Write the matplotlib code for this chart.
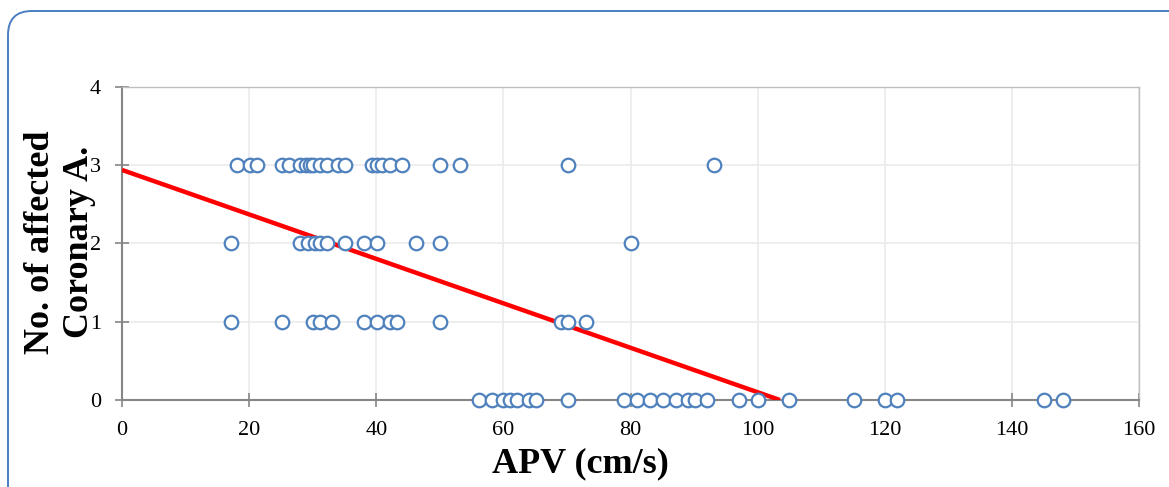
import numpy as np
import matplotlib
matplotlib.use("Agg")
import matplotlib.pyplot as plt
from matplotlib.patches import FancyBboxPatch
from matplotlib.transforms import IdentityTransform

# ---- data ----
apv_3 = [18.1, 20.1, 21.2, 25.1, 26.2, 28.0, 28.9, 29.6, 30.1, 31.2, 32.2, 34.0,
         35.1, 39.3, 40.1, 40.9, 42.2, 44.0, 50.0, 53.2, 70.1, 93.1]
apv_2 = [17.1, 28.0, 29.3, 30.4, 31.2, 32.2, 35.1, 38.0, 40.1, 46.3, 50.0, 80.1]
apv_1 = [17.1, 25.1, 30.1, 31.2, 33.1, 38.1, 40.1, 42.1, 43.2, 50.0, 69.0, 70.2, 73.0]
apv_0 = [56.2, 58.2, 60.0, 61.0, 62.2, 64.1, 65.1, 70.1, 79.0, 81.1, 83.1, 85.1,
         87.1, 89.1, 90.2, 92.0, 97.1, 100.1, 105.0, 115.1, 120.0, 122.0, 145.1, 148.1]
vessel_counts = [3, 2, 1, 0]

x_ticks = [0, 20, 40, 60, 80, 100, 120, 140, 160]
y_ticks = [0, 1, 2, 3, 4]

trend_intercept = 2.94
trend_zero_x = 103.5

# ---- build ----
xs = np.concatenate([apv_3, apv_2, apv_1, apv_0])
ys = np.concatenate([[c] * len(a) for c, a in zip(vessel_counts, [apv_3, apv_2, apv_1, apv_0])])

fig = plt.figure(figsize=(11.69, 4.87), dpi=100)
ax = fig.add_axes([122 / 1169, 1 - 400 / 487, (1139 - 122) / 1169, (400 - 87) / 487])

# rounded outer chart frame (pixel coordinates)
frame = FancyBboxPatch((8, -60), 1250, 487 - 11 + 60,
                       boxstyle="round,pad=0,rounding_size=24",
                       transform=IdentityTransform(), facecolor="none",
                       edgecolor="#4A7EC0", linewidth=1.4, clip_on=False)
fig.add_artist(frame)

ax.set_xlim(x_ticks[0], x_ticks[-1])
ax.set_ylim(y_ticks[0], y_ticks[-1])
ax.set_xticks(x_ticks)
ax.set_yticks(y_ticks)
ax.grid(True, color="#EBEBEB", linewidth=1.2, zorder=0)
ax.set_axisbelow(True)

ax.plot([0, trend_zero_x], [trend_intercept, 0], color="#FF0000", linewidth=3.2,
        zorder=3, solid_capstyle="butt")
ax.scatter(xs, ys, s=95, facecolors="white", edgecolors="#4F81BD", linewidths=1.6,
           zorder=4, clip_on=False)

for side in ["top", "right"]:
    ax.spines[side].set_color("#BFBFBF")
    ax.spines[side].set_linewidth(1.0)
for side in ["left", "bottom"]:
    ax.spines[side].set_color("#868686")
    ax.spines[side].set_linewidth(1.5)
ax.tick_params(axis="both", direction="inout", length=10, width=1.2, color="#868686",
               labelsize=16, pad=10)
for lbl in ax.get_xticklabels() + ax.get_yticklabels():
    lbl.set_fontfamily("Liberation Serif")

fig.text(580 / 1169, 1 - 464 / 487, "APV (cm/s)", ha="center", va="center",
         fontsize=26, fontweight="bold", family="Liberation Serif")
fig.text(60 / 1169, 1 - 242 / 487, "No. of affected\nCoronary A.", ha="center", va="center",
         rotation=90, fontsize=26, fontweight="bold", family="Liberation Serif",
         linespacing=1.2)

fig.savefig("out.png", dpi=100)
